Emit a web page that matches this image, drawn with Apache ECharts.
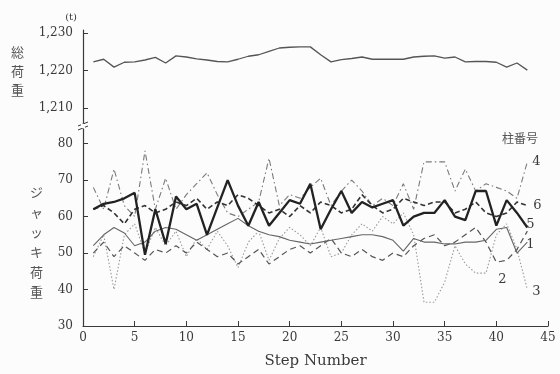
<!DOCTYPE html>
<html>
<head>
<meta charset="utf-8">
<script src="https://cdn.jsdelivr.net/npm/echarts@6/dist/echarts.min.js"></script>
<style>
  html, body { margin: 0; padding: 0; background: #fcfcfc; }
  #chart { width: 560px; height: 374px; }
</style>
</head>
<body>
<div id="chart"></div>
<script>
// step numbers
const steps = [1, 2, 3, 4, 5, 6, 7, 8, 9, 10, 11, 12, 13, 14, 15, 16, 17, 18, 19, 20, 21, 22,
  23, 24, 25, 26, 27, 28, 29, 30, 31, 32, 33, 34, 35, 36, 37, 38, 39, 40, 41, 42, 43];

// 総荷重 (t)
const totalLoad = [1222.3, 1223, 1220.9, 1222.2, 1222.3, 1222.8, 1223.5, 1222, 1223.9, 1223.6,
  1223.1, 1222.8, 1222.4, 1222.3, 1223, 1223.8, 1224.2, 1225.1, 1226, 1226.2, 1226.3, 1226.3,
  1224.2, 1222.3, 1222.9, 1223.2, 1223.6, 1223, 1223, 1223, 1223, 1223.6, 1223.8, 1223.9,
  1223.3, 1223.6, 1222.3, 1222.4, 1222.4, 1222.2, 1220.9, 1222, 1220.1];

// ジャッキ荷重, one array per column (柱番号)
const jack1 = [52, 55, 57, 55.5, 52, 53, 56, 57, 56.5, 55, 53.5, 55, 56.5, 58, 59.5, 57.5, 56,
  55, 54.5, 53.5, 53, 52.5, 53, 53.5, 54, 54.5, 55, 55, 54.5, 53.5, 50.5, 54, 53, 53, 52.5,
  52.5, 53, 53, 53.5, 56.5, 57, 50, 53];
const jack2 = [50, 53, 49, 52, 50, 48, 51, 50, 52, 50, 53, 51, 49, 50, 47, 49, 51, 47, 49, 51,
  52, 50, 52, 54, 50, 49, 51, 49, 48, 50, 49, 52, 54, 55, 52, 53, 55, 57, 53, 47.5, 48, 51, 56];
const jack3 = [49, 55, 40, 55, 58, 50, 57, 52, 56, 49, 54, 51, 56, 52, 46, 53, 56, 48, 54, 57,
  55, 52, 57, 49, 50, 55, 58, 56, 60, 58, 61, 55, 36.5, 36.5, 42, 52, 47, 44.5, 44.5, 55, 58,
  51, 40];
const jack4 = [68, 62, 73, 63, 60, 78, 62, 70.5, 62, 66, 69, 72, 66, 61, 60, 62, 64, 76, 63, 66,
  65, 68, 70.5, 63, 67, 70, 67, 63, 65, 63, 69, 62, 75, 75, 75, 67, 73, 67, 69, 68, 67, 65, 75];
const jack5 = [62, 63.5, 64, 65, 66.5, 49.5, 62, 52.5, 65.5, 62, 63.5, 55, 62.5, 70, 63, 57.5,
  64, 57.5, 61, 64.5, 63.5, 69, 56.5, 62, 67, 61, 64, 62.5, 63.5, 64.5, 57.5, 60, 61, 61, 64.5,
  60, 59, 67, 67, 57.5, 64.5, 61, 57];
const jack6 = [62, 63, 61, 58, 62, 63, 61, 62, 64, 63, 65, 62, 64, 63, 66, 65, 63, 61, 62, 60,
  63, 61, 64, 63, 61, 62, 66, 63, 61, 62, 65, 64, 63, 64, 64, 61, 62, 64, 61, 60, 61, 64, 63];

const upperTicks = [1210, 1220, 1230];
const lowerTicks = [30, 40, 50, 60, 70, 80];

const pairs = (arr) => steps.map((s, i) => [s, arr[i]]);
const serif = 'DejaVu Serif';
const ink = '#3a3a3a';

const chart = echarts.init(document.getElementById('chart'));

function jackSeries(name, data, style, offset) {
  return {
    name: name,
    type: 'line',
    xAxisIndex: 1,
    yAxisIndex: 1,
    data: pairs(data),
    showSymbol: false,
    silent: true,
    lineStyle: style,
    endLabel: {
      show: true,
      formatter: '{a}',
      offset: offset,
      color: ink,
      fontFamily: serif,
      fontSize: 13
    }
  };
}

chart.setOption({
  backgroundColor: '#fcfcfc',
  animation: false,
  grid: [
    { left: 83, right: 12, top: 30, height: 93 },
    { left: 83, right: 12, top: 129, bottom: 42 }
  ],
  xAxis: [
    {
      gridIndex: 0, type: 'value', min: 0, max: 45, interval: 5, show: false
    },
    {
      gridIndex: 1, type: 'value', min: 0, max: 45, interval: 5,
      name: 'Step Number', nameLocation: 'middle', nameGap: 28,
      nameTextStyle: { fontFamily: serif, fontSize: 15, color: ink },
      axisLine: { lineStyle: { color: ink, width: 1.2 } },
      axisTick: { inside: true, length: 5, lineStyle: { color: ink } },
      axisLabel: { fontFamily: serif, fontSize: 12, color: ink, margin: 6 },
      splitLine: { show: false }
    }
  ],
  yAxis: [
    {
      gridIndex: 0, type: 'value', min: 1206, max: 1230.8,
      name: '(t)', nameLocation: 'end', nameGap: 8,
      nameTextStyle: { fontFamily: serif, fontSize: 10, color: ink, align: 'right', padding: [0, 6, 0, 0] },
      axisLine: { show: true, lineStyle: { color: ink, width: 1.2 } },
      axisTick: { show: true, inside: true, length: 5, customValues: upperTicks, lineStyle: { color: ink } },
      axisLabel: {
        customValues: upperTicks, fontFamily: serif, fontSize: 12, color: ink, margin: 10,
        formatter: (v) => v.toLocaleString('en-US')
      },
      splitLine: { show: false }
    },
    {
      gridIndex: 1, type: 'value', min: 30, max: 84,
      axisLine: { show: true, lineStyle: { color: ink, width: 1.2 } },
      axisTick: { show: true, inside: true, length: 5, customValues: lowerTicks, lineStyle: { color: ink } },
      axisLabel: { customValues: lowerTicks, fontFamily: serif, fontSize: 12, color: ink, margin: 10 },
      splitLine: { show: false }
    }
  ],
  graphic: [
    // axis break marks
    { type: 'line', shape: { x1: 78, y1: 126, x2: 88, y2: 122 }, style: { stroke: ink, lineWidth: 1 } },
    { type: 'line', shape: { x1: 78, y1: 130, x2: 88, y2: 126 }, style: { stroke: ink, lineWidth: 1 } },
    { type: 'rect', shape: { x: 81, y: 124, width: 4, height: 4 }, style: { fill: '#fcfcfc' }, z: 5 },
    {
      type: 'text', left: 11, top: 43,
      style: { text: '総\n荷\n重', fontFamily: 'Noto Sans CJK JP', fontSize: 13, lineHeight: 19, fill: '#555' }
    },
    {
      type: 'text', left: 30, top: 182,
      style: { text: 'ジ\nャ\nッ\nキ\n荷\n重', fontFamily: 'Noto Sans CJK JP', fontSize: 13, lineHeight: 20, fill: '#555' }
    },
    {
      type: 'text', left: 502, top: 132,
      style: { text: '柱番号', fontFamily: 'Noto Sans CJK JP', fontSize: 12, fill: '#555' }
    }
  ],
  series: [
    {
      name: '総荷重',
      type: 'line',
      xAxisIndex: 0,
      yAxisIndex: 0,
      data: pairs(totalLoad),
      showSymbol: false,
      silent: true,
      lineStyle: { color: '#555', width: 1.3 }
    },
    jackSeries('3', jack3, { color: '#9a9a9a', width: 1.1, type: [1.5, 2] }, [-3, 2]),
    jackSeries('2', jack2, { color: '#555', width: 1.2, type: [6, 4] }, [-37, 48]),
    jackSeries('1', jack1, { color: '#666', width: 1.1 }, [-9, 3]),
    jackSeries('4', jack4, { color: '#7a7a7a', width: 1.1, type: [6, 3, 1.5, 3] }, [-3, 0]),
    jackSeries('6', jack6, { color: '#333', width: 1.6, type: [5, 3] }, [-2, 0]),
    jackSeries('5', jack5, { color: '#222', width: 2.3 }, [-9, -3])
  ]
});
</script>
</body>
</html>
